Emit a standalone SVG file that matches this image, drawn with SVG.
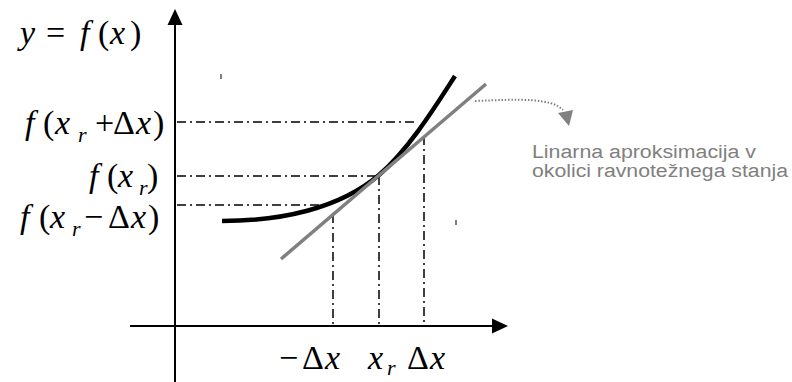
<svg xmlns="http://www.w3.org/2000/svg" width="792" height="382" viewBox="0 0 792 382">
<style>
.axis{stroke:#000;stroke-width:2;fill:none}
.dd{stroke:#000;stroke-width:1.5;fill:none;stroke-dasharray:9 4 2 4}
.m{font-family:"Liberation Serif","Times New Roman",serif;font-style:italic;font-size:34px;fill:#000}
.u{font-style:normal}
.s{font-size:22px}
.note{font-family:"Liberation Sans",Arial,sans-serif;font-size:18px;fill:#808080}
</style>
<rect width="792" height="382" fill="#fff"/>
<g id="connectors">
  <line class="axis" x1="175" y1="382" x2="175" y2="22"/>
  <polygon points="175,9 167.5,25 182.5,25" fill="#000"/>
  <line class="axis" x1="130" y1="326" x2="495" y2="326"/>
  <polygon points="508,326 492,318.5 492,333.5" fill="#000"/>
  <line class="dd" x1="177" y1="122" x2="418" y2="122"/>
  <line class="dd" x1="177" y1="176" x2="378" y2="176"/>
  <line class="dd" x1="177" y1="205" x2="327" y2="205"/>
  <line class="dd" x1="333" y1="214" x2="333" y2="325"/>
  <line class="dd" x1="379" y1="176" x2="379" y2="325"/>
  <line class="dd" x1="424" y1="136" x2="424" y2="325"/>
  <line x1="221" y1="74" x2="221" y2="79" stroke="#000" stroke-width="1"/>
  <line x1="456" y1="220" x2="456" y2="225" stroke="#000" stroke-width="1"/>
  <path d="M475,101 C520,99 552,98 563,110" fill="none" stroke="#808080" stroke-width="2" stroke-dasharray="1.5 1.8"/>
  <polygon points="558,113 573,110 569,126" fill="#808080"/>
</g>
<g id="curve">
  <path d="M222,221 C280,221 339,209 379,175 C409,149 435,107 455,76" fill="none" stroke="#000" stroke-width="4.5"/>
</g>
<g id="tangent">
  <line x1="281" y1="259" x2="486" y2="84" stroke="#808080" stroke-width="3.5"/>
</g>
<g id="label-y">
  <text class="m" y="44"><tspan x="20">y</tspan><tspan class="u" x="46">=</tspan><tspan x="80">f</tspan><tspan class="u" x="98">(</tspan><tspan x="110">x</tspan><tspan class="u" x="130">)</tspan></text>
</g>
<g id="label-f-plus">
  <text class="m" y="134"><tspan x="25">f</tspan><tspan class="u" x="43">(</tspan><tspan x="55">x</tspan><tspan class="s" x="78" dy="8">r</tspan><tspan class="u" x="95" dy="-8">+</tspan><tspan class="u" x="113">Δ</tspan><tspan x="136">x</tspan><tspan class="u" x="153">)</tspan></text>
</g>
<g id="label-f">
  <text class="m" y="187"><tspan x="89">f</tspan><tspan class="u" x="107">(</tspan><tspan x="118">x</tspan><tspan class="s" x="139" dy="8">r</tspan><tspan class="u" x="147" dy="-8">)</tspan></text>
</g>
<g id="label-f-minus">
  <text class="m" y="228"><tspan x="20">f</tspan><tspan class="u" x="39">(</tspan><tspan x="50">x</tspan><tspan class="s" x="72" dy="8">r</tspan><tspan class="u" x="84" dy="-8">−</tspan><tspan class="u" x="108">Δ</tspan><tspan x="131">x</tspan><tspan class="u" x="148">)</tspan></text>
</g>
<g id="label-x">
  <text class="m" y="369"><tspan class="u" x="279">−</tspan><tspan class="u" x="302">Δ</tspan><tspan x="325">x</tspan><tspan x="368">x</tspan><tspan class="s" x="387" dy="6">r</tspan><tspan class="u" x="407" dy="-6">Δ</tspan><tspan x="430">x</tspan></text>
</g>
<g id="note">
  <text class="note" x="532" y="158" textLength="224" lengthAdjust="spacingAndGlyphs">Linarna aproksimacija v</text>
  <text class="note" x="532" y="177" textLength="256" lengthAdjust="spacingAndGlyphs">okolici ravnotežnega stanja</text>
</g>
</svg>
